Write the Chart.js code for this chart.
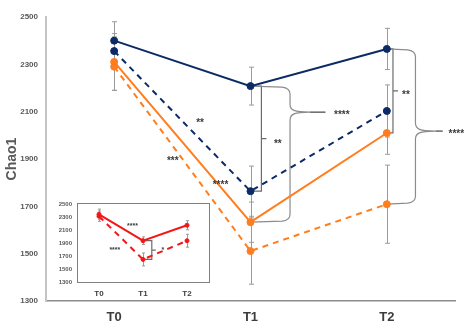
<!DOCTYPE html>
<html>
<head>
<meta charset="utf-8">
<script src="https://cdn.jsdelivr.net/npm/chart.js@4.4.0/dist/chart.umd.min.js"></script>
<style>
body { margin: 0; background: #fff; }
#wrap { position: relative; width: 472px; height: 326px; }
#main { position: absolute; left: 0; top: 0; }
#inset { position: absolute; left: 52px; top: 196px; }
</style>
</head>
<body>
<div id="wrap">
  <canvas id="main" width="472" height="326"></canvas>
  <canvas id="inset" width="162" height="104"></canvas>
</div>
<script>
// Datos
var categorias = ['T0', 'T1', 'T2'];
var ticksY = [1300, 1500, 1700, 1900, 2100, 2300, 2500];

var azulSolido = [2400, 2208, 2365];
var azulPunteado = [2356, 1764, 2103];
var naranjaSolido = [2310, 1633, 2010];
var naranjaPunteado = [2290, 1511, 1709];

var errAzulSolido = [80, 80, 87];
var errAzulPunteado = [60, 106, 110];
var errNaranjaSolido = [120, 85, 90];
var errNaranjaPunteado = [100, 140, 165];

// recuadro
var rojoSolido = [2350, 1940, 2180];
var rojoPunteado = [2320, 1650, 1940];
var errRojoSolido = [80, 60, 70];
var errRojoPunteado = [80, 100, 100];

var AZUL = '#0b2a66';
var NARANJA = '#ff7d1f';
var ROJO = '#f21818';
var GRIS = '#9a9a9a';
var TEXTO = '#3d3d3d';
var FUENTE = "'Liberation Sans', Arial, sans-serif";

function dibujarErrores(chart, errores, cap) {
  var ctx = chart.ctx;
  var x = chart.scales.x, y = chart.scales.y;
  ctx.save();
  ctx.strokeStyle = GRIS;
  ctx.lineWidth = 1;
  errores.forEach(function (par) {
    par.valores.forEach(function (v, i) {
      var px = Math.round(x.getPixelForValue(i)) + 0.5;
      var y1 = y.getPixelForValue(v + par.err[i]);
      var y2 = y.getPixelForValue(v - par.err[i]);
      ctx.beginPath();
      ctx.moveTo(px, y1); ctx.lineTo(px, y2);
      ctx.moveTo(px - cap, y1); ctx.lineTo(px + cap, y1);
      ctx.moveTo(px - cap, y2); ctx.lineTo(px + cap, y2);
      ctx.stroke();
    });
  });
  ctx.restore();
}

// llave curva entre dos puntos, con punta hacia la derecha
function llave(ctx, x, yTop, yBot, xv, yTip, xFin, r) {
  ctx.save();
  ctx.strokeStyle = '#8c8c8c';
  ctx.lineWidth = 1.2;
  ctx.beginPath();
  ctx.moveTo(x, yTop);
  ctx.lineTo(xv - r, yTop + 1);
  ctx.quadraticCurveTo(xv, yTop + 2, xv, yTop + r);
  ctx.lineTo(xv, yTip - r);
  ctx.bezierCurveTo(xv, yTip - 2, xv + 4, yTip, xv + 2.5 * r, yTip);
  ctx.bezierCurveTo(xv + 4, yTip, xv, yTip + 2, xv, yTip + r);
  ctx.lineTo(xv, yBot - r);
  ctx.quadraticCurveTo(xv, yBot - 2, xv - r, yBot - 1);
  ctx.lineTo(x, yBot);
  ctx.stroke();
  ctx.strokeStyle = '#404040';
  ctx.beginPath();
  ctx.moveTo(xv + 2.5 * r, yTip); ctx.lineTo(xFin, yTip);
  ctx.stroke();
  ctx.restore();
}

function corchete(ctx, x, yTop, yBot, xv, largo) {
  ctx.save();
  ctx.strokeStyle = '#6b6b6b';
  ctx.lineWidth = 1.2;
  ctx.beginPath();
  ctx.moveTo(x, yTop); ctx.lineTo(xv, yTop); ctx.lineTo(xv, yBot); ctx.lineTo(x, yBot);
  var ym = (yTop + yBot) / 2;
  ctx.moveTo(xv, ym); ctx.lineTo(xv + largo, ym);
  ctx.stroke();
  ctx.restore();
}

function estrellas(ctx, chart, xi, v, txt, size) {
  var px = chart.scales.x.getPixelForValue(xi);
  var py = chart.scales.y.getPixelForValue(v);
  ctx.save();
  ctx.fillStyle = TEXTO;
  ctx.font = 'bold ' + size + 'px ' + FUENTE;
  ctx.textAlign = 'center';
  ctx.textBaseline = 'middle';
  ctx.fillText(txt, px, py + size * 0.3);
  ctx.restore();
}

var notasPrincipal = {
  id: 'notasPrincipal',
  beforeDatasetsDraw: function (chart) {
    dibujarErrores(chart, [
      { valores: azulSolido, err: errAzulSolido },
      { valores: azulPunteado, err: errAzulPunteado },
      { valores: naranjaSolido, err: errNaranjaSolido },
      { valores: naranjaPunteado, err: errNaranjaPunteado }
    ], 2.5);
    var ctx = chart.ctx, x = chart.scales.x, y = chart.scales.y;
    // T1
    corchete(ctx, x.getPixelForValue(1), y.getPixelForValue(azulSolido[1]), y.getPixelForValue(azulPunteado[1]), x.getPixelForValue(1.08), 5);
    llave(ctx, x.getPixelForValue(1), y.getPixelForValue(azulSolido[1]), y.getPixelForValue(naranjaSolido[1]),
      x.getPixelForValue(1.29), y.getPixelForValue(2098), x.getPixelForValue(1.55), 8);
    // T2
    corchete(ctx, x.getPixelForValue(2), y.getPixelForValue(azulSolido[2]), y.getPixelForValue(naranjaSolido[2]), x.getPixelForValue(2.045), 5);
    llave(ctx, x.getPixelForValue(2), y.getPixelForValue(azulSolido[2]), y.getPixelForValue(naranjaPunteado[2]),
      x.getPixelForValue(2.21), y.getPixelForValue(2018), x.getPixelForValue(2.41), 8);
  },
  afterDatasetsDraw: function (chart) {
    var ctx = chart.ctx;
    estrellas(ctx, chart, 0.63, 2065, '**', 10);
    estrellas(ctx, chart, 0.43, 1904, '***', 10);
    estrellas(ctx, chart, 0.78, 1802, '****', 10);
    estrellas(ctx, chart, 1.2, 1976, '**', 10);
    estrellas(ctx, chart, 1.67, 2098, '****', 10);
    estrellas(ctx, chart, 2.14, 2183, '**', 10);
    estrellas(ctx, chart, 2.51, 2018, '****', 10);
  }
};

function serie(data, color, punteada, radio, ancho) {
  return {
    data: data,
    borderColor: color,
    backgroundColor: color,
    pointBackgroundColor: color,
    pointBorderColor: color,
    pointBorderWidth: 1,
    borderWidth: ancho,
    borderDash: punteada ? [6, 5] : [],
    pointRadius: radio,
    tension: 0,
    fill: false
  };
}

function sinComa(v) { return String(v); }

new Chart(document.getElementById('main').getContext('2d'), {
  type: 'line',
  data: {
    labels: categorias,
    datasets: [
      serie(naranjaPunteado, NARANJA, true, 3.5, 2),
      serie(naranjaSolido, NARANJA, false, 3.5, 2),
      serie(azulPunteado, AZUL, true, 3.5, 2),
      serie(azulSolido, AZUL, false, 3.5, 2)
    ]
  },
  options: {
    responsive: false,
    animation: false,
    layout: { padding: { top: 17, right: 17, left: 0, bottom: 0 } },
    plugins: { legend: { display: false }, tooltip: { enabled: false } },
    scales: {
      x: {
        offset: true,
        grid: { display: false, drawTicks: false },
        border: { color: '#8c8c8c', width: 1.5 },
        ticks: { color: TEXTO, padding: 9, font: { family: FUENTE, size: 13, weight: 'bold' } },
        afterFit: function (s) { s.height = 25; }
      },
      y: {
        min: 1300,
        max: 2500,
        afterBuildTicks: function (s) { s.ticks = ticksY.map(function (v) { return { value: v }; }); },
        grid: { display: false, drawTicks: false },
        border: { color: '#c4c4c4', width: 2 },
        ticks: { color: '#595959', padding: 8, callback: sinComa, font: { family: FUENTE, size: 8, weight: 'bold' } },
        title: { display: true, text: 'Chao1', color: '#595959', padding: { top: 4, bottom: 0 }, font: { family: FUENTE, size: 14, weight: 'bold' } },
        afterFit: function (s) { s.width = 46; }
      }
    }
  },
  plugins: [notasPrincipal]
});

// recuadro pequeño
var notasRecuadro = {
  id: 'notasRecuadro',
  beforeDatasetsDraw: function (chart) {
    var ctx = chart.ctx, a = chart.chartArea, x = chart.scales.x, y = chart.scales.y;
    ctx.save();
    ctx.fillStyle = '#fff';
    ctx.fillRect(a.left, a.top - 2, a.right - a.left, a.bottom - a.top + 2);
    ctx.strokeStyle = '#7f7f7f';
    ctx.lineWidth = 1;
    ctx.strokeRect(Math.round(a.left) + 0.5, Math.round(a.top) - 1.5, Math.round(a.right - a.left), Math.round(a.bottom - a.top) + 2);
    ctx.restore();
    dibujarErrores(chart, [
      { valores: rojoSolido, err: errRojoSolido },
      { valores: rojoPunteado, err: errRojoPunteado }
    ], 1.5);
    corchete(ctx, x.getPixelForValue(1), y.getPixelForValue(rojoSolido[1]), y.getPixelForValue(rojoPunteado[1]), x.getPixelForValue(1.2), 4);
  },
  afterDatasetsDraw: function (chart) {
    var ctx = chart.ctx;
    estrellas(ctx, chart, 0.76, 2196, '****', 7);
    estrellas(ctx, chart, 0.36, 1831, '****', 7);
    estrellas(ctx, chart, 1.45, 1830, '*', 7);
  }
};

new Chart(document.getElementById('inset').getContext('2d'), {
  type: 'line',
  data: {
    labels: categorias,
    datasets: [
      serie(rojoPunteado, ROJO, true, 2, 2),
      serie(rojoSolido, ROJO, false, 2, 2)
    ]
  },
  options: {
    responsive: false,
    animation: false,
    layout: { padding: { top: 7, right: 4, left: 0, bottom: 0 } },
    plugins: { legend: { display: false }, tooltip: { enabled: false } },
    scales: {
      x: {
        offset: true,
        grid: { display: false, drawTicks: false },
        border: { display: false },
        ticks: { color: TEXTO, padding: 7, font: { family: FUENTE, size: 8, weight: 'bold' } },
        afterFit: function (s) { s.height = 18; }
      },
      y: {
        min: 1300,
        max: 2500,
        afterBuildTicks: function (s) { s.ticks = ticksY.map(function (v) { return { value: v }; }); },
        grid: { display: false, drawTicks: false },
        border: { display: false },
        ticks: { color: '#595959', padding: 5, callback: sinComa, font: { family: FUENTE, size: 6, weight: 'bold' } },
        afterFit: function (s) { s.width = 25; }
      }
    }
  },
  plugins: [notasRecuadro]
});
</script>
</body>
</html>
